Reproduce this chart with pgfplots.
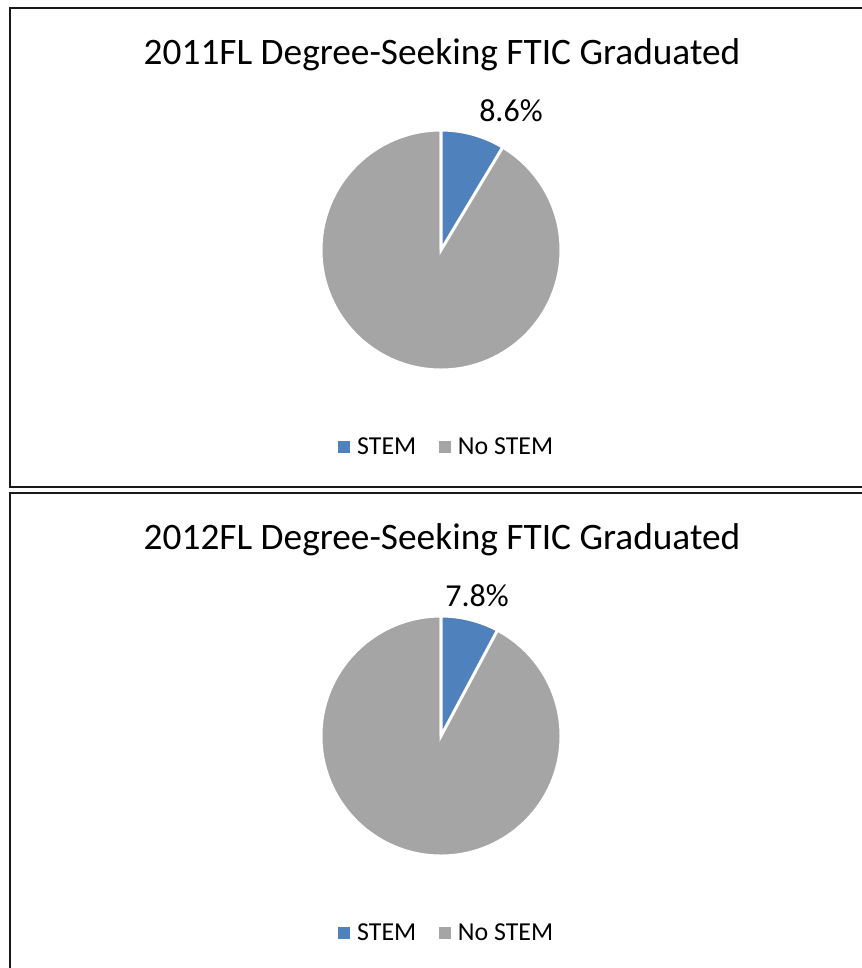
\documentclass[border=0pt]{standalone}
\usepackage{fontspec}
\setmainfont{Carlito}
\usepackage{pgfplots}
\usepackage{pgfplotstable}
\pgfplotsset{compat=1.18}
\definecolor{stemblue}{HTML}{4F81BD}
\definecolor{nogray}{HTML}{A5A5A5}
\pgfplotstableread{
year stem nostem
2011 8.6 91.4
2012 7.8 92.2
}\piedata
\pgfplotsset{
  pie/.style={
    width=216pt, height=216pt, scale only axis,
    xmin=-1.2, xmax=1.2, ymin=-1.2, ymax=1.2,
    hide axis, clip=false, anchor=center,
    legend columns=2,
    legend style={at={(0.521,-0.184)}, anchor=center, draw=none, fill=none,
      font=\fontsize{19.4}{22}\selectfont,
      /tikz/every even column/.append style={column sep=15pt}},
  }
}
\newcommand{\pie}[2]{% #1 stem value, #2 label x,y
  \filldraw[fill=nogray, draw=white, line width=2.25pt]
    (axis cs:0,0) -- (axis cs:0,1) arc[start angle=90, end angle=-270, radius=90pt] -- cycle;
  \filldraw[fill=stemblue, draw=white, line width=2.25pt]
    (axis cs:0,0) -- (axis cs:0,1) arc[start angle=90, end angle={90-3.6*#1}, radius=90pt] -- cycle;
  \node[font=\fontsize{24}{28}\selectfont, anchor=base] at (axis cs:#2)
    {\pgfmathprintnumber[fixed, precision=1, fixed zerofill, assume math mode=true]{#1}\%};
  \addlegendimage{legend image code/.code={\fill[stemblue] (0pt,-4.1pt) rectangle (8.2pt,4.1pt); \path[draw=none,fill=none] (0pt,0pt) rectangle (12pt,0.1pt);}}
  \addlegendentry{STEM}
  \addlegendimage{legend image code/.code={\fill[nogray] (0pt,-4.1pt) rectangle (8.2pt,4.1pt); \path[draw=none,fill=none] (0pt,0pt) rectangle (12pt,0.1pt);}}
  \addlegendentry{No STEM}
}
\begin{document}
\begin{tikzpicture}
\useasboundingbox (0,0) rectangle (646.5pt,-726pt);
\clip (0,0) rectangle (646.5pt,-726pt);
\fill[white] (0,0) rectangle (646.5pt,-726pt);
\draw[line width=1.5pt, black!90] (7.5pt,-6pt) rectangle (660pt,-365pt);
\draw[line width=1.5pt, black!90] (7.5pt,-369.5pt) rectangle (660pt,-740pt);

\pgfplotstablegetelem{0}{stem}\of\piedata \let\stemA\pgfplotsretval
\pgfplotstablegetelem{1}{stem}\of\piedata \let\stemB\pgfplotsretval

\begin{axis}[pie, at={(330.75pt,-187.5pt)}]
  \pie{\stemA}{0.583,1.067}
\end{axis}
\begin{axis}[pie, at={(330.75pt,-552pt)}]
  \pie{\stemB}{0.30,1.083}
\end{axis}

\node[anchor=base, font=\fontsize{28}{32}\selectfont] at (331.5pt,-48pt) {2011FL Degree-Seeking FTIC Graduated};
\node[anchor=base, font=\fontsize{28}{32}\selectfont] at (331.5pt,-412pt) {2012FL Degree-Seeking FTIC Graduated};
\end{tikzpicture}
\end{document}
